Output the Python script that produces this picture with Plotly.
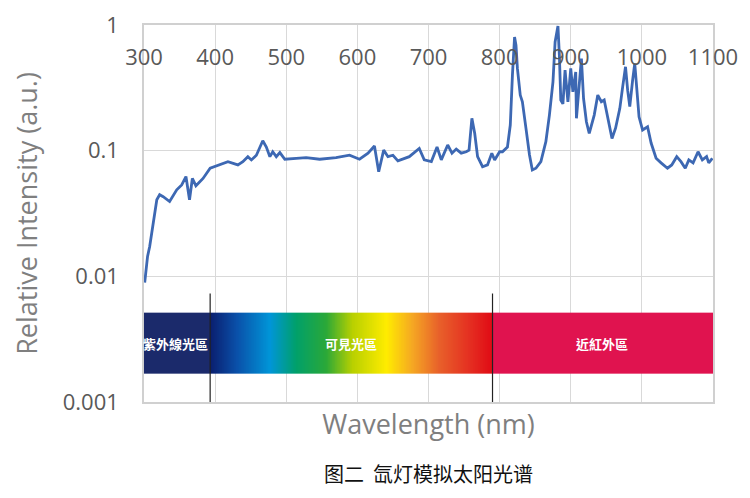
import numpy as np
import plotly.graph_objects as go

# ---------------- data ----------------
wavelength_nm = [301, 303, 305, 308, 313, 318, 322, 327, 336, 346, 353, 359, 364, 368, 373, 383,
                 393, 400, 407, 418, 432, 439, 446, 451, 458, 467, 472, 477, 481, 486, 491, 498,
                 514, 528, 547, 570, 589, 603, 615, 624, 630, 637, 643, 650, 657, 673, 687, 694,
                 704, 712, 718, 727, 733, 739, 746, 753, 757, 761, 765, 769, 776, 783, 789, 793,
                 800, 804, 811, 815, 818, 821, 823, 825, 829, 832, 837, 842, 846, 851, 858, 865,
                 870, 875, 878, 882, 884, 886, 889, 892, 896, 900, 903, 907, 908, 912, 915, 918,
                 922, 926, 933, 938, 943, 947, 952, 958, 963, 969, 973, 977, 980, 983, 987, 990,
                 993, 996, 1001, 1008, 1013, 1020, 1027, 1036, 1042, 1049, 1055, 1061, 1066, 1072,
                 1079, 1085, 1091, 1094, 1099]
intensity = [0.0089, 0.0113, 0.0144, 0.0173, 0.0267, 0.0407, 0.0446, 0.043, 0.0394, 0.0488, 0.0534,
             0.0622, 0.0407, 0.0601, 0.0525, 0.0601,
             0.0725, 0.075, 0.077, 0.0818, 0.077, 0.0818, 0.0896, 0.0844, 0.092, 0.12, 0.107, 0.0896,
             0.098, 0.0896, 0.0966, 0.0855,
             0.0868, 0.088, 0.0855, 0.088, 0.092, 0.0855, 0.0955, 0.109, 0.068, 0.101, 0.0896, 0.092,
             0.083, 0.0896, 0.104, 0.0844,
             0.0818, 0.107, 0.0844, 0.111, 0.0955, 0.103, 0.0955, 0.098, 0.101, 0.181, 0.137, 0.0896,
             0.0745, 0.077, 0.0955, 0.0844,
             0.098, 0.098, 0.107, 0.16, 0.399, 0.803, 0.69, 0.451, 0.277, 0.245, 0.151, 0.0925,
             0.0703, 0.0725, 0.0818, 0.118,
             0.192, 0.353, 0.733, 0.98, 0.575, 0.253, 0.236, 0.437, 0.245, 0.451, 0.294, 0.423,
             0.181, 0.332, 0.541, 0.26,
             0.17, 0.137, 0.192, 0.277, 0.245, 0.253, 0.186, 0.125, 0.151, 0.217, 0.322, 0.465,
             0.303, 0.224, 0.364, 0.494,
             0.303, 0.186, 0.146, 0.155, 0.115, 0.087, 0.08, 0.0725, 0.077, 0.0896, 0.0818, 0.0725,
             0.0844, 0.08,
             0.098, 0.0844, 0.0896, 0.08, 0.087]

x_ticks = [300, 400, 500, 600, 700, 800, 900, 1000, 1100]
y_ticks = [0.001, 0.01, 0.1, 1]
y_ticktext = ["0.001", "0.01", "0.1", "1"]

# spectral band regions
band_low, band_high = 0.00167, 0.00514
uv_edge_nm = 393
nir_edge_nm = 790
region_names = ["紫外線光區", "可見光區", "近紅外區"]
region_label_nm = [344, 591, 944]
divider_top = 0.0073

# gradient stops (wavelength, colour)
stop_nm = [300, 392.9, 393.1, 430, 477, 514, 556, 593, 641, 678, 715, 762, 789.9, 790.1, 1100]
stop_colors = ["#1b2a6b", "#1b2a6b", "#0a1e6e", "#0a4fa8", "#0095d8", "#00a06a", "#2aa838",
               "#b8d000", "#ffec00", "#f5a623", "#e8602a", "#e42a20", "#e00a14", "#e0134f", "#e0134f"]

# ---------------- figure ----------------
x_min, x_max = x_ticks[0], x_ticks[-1]
colorscale = [[(s - x_min) / (x_max - x_min), c] for s, c in zip(stop_nm, stop_colors)]
edges = np.arange(x_min, x_max + 1, 1.0)
mids = (edges[:-1] + edges[1:]) / 2

fig = go.Figure()

fig.add_trace(go.Heatmap(
    x=edges, y=[band_low, band_high], z=[mids],
    colorscale=colorscale, zmin=x_min, zmax=x_max, showscale=False,
    hoverinfo="skip", xaxis="x2", yaxis="y"))

fig.add_trace(go.Scatter(
    x=[uv_edge_nm, uv_edge_nm, None, nir_edge_nm, nir_edge_nm],
    y=[y_ticks[0], divider_top, None, y_ticks[0], divider_top],
    mode="lines", line=dict(color="#222222", width=1.2), hoverinfo="skip",
    xaxis="x2", yaxis="y"))

fig.add_trace(go.Scatter(
    x=wavelength_nm, y=intensity, mode="lines",
    line=dict(color="#3d68b3", width=2.8), hoverinfo="skip"))

band_mid = (band_low * band_high) ** 0.5
for name, xn in zip(region_names, region_label_nm):
    fig.add_annotation(x=xn, y=np.log10(band_mid), xref="x", yref="y", text="<b>" + name + "</b>",
                       showarrow=False, font=dict(family="Noto Sans CJK TC", size=13, color="white"))

fig.add_annotation(x=0.5, y=-0.19, xref="paper", yref="paper", xanchor="center", yanchor="middle",
                   text="图二  氙灯模拟太阳光谱", showarrow=False,
                   font=dict(family="Noto Sans CJK SC", size=20, color="#111111"))

tick_font = dict(family="Open Sans", size=22, color="#595959")
title_font = dict(family="Open Sans", size=27, color="#7f7f7f")
fig.update_layout(
    width=742, height=490,
    margin=dict(l=136, r=37, t=17, b=96, autoexpand=False),
    paper_bgcolor="white", plot_bgcolor="white",
    showlegend=False,
    xaxis=dict(range=[x_min, x_max], tickvals=x_ticks, showticklabels=False, automargin=False,
               showgrid=True, gridcolor="#d9d9d9", gridwidth=1.3, zeroline=False,
               showline=True, mirror=True, linecolor="#d0d0d0", linewidth=1.5,
               title=dict(text="Wavelength (nm)", standoff=12, font=title_font)),
    xaxis2=dict(range=[x_min, x_max], overlaying="x", anchor="free", position=1.0,
                side="bottom", tickvals=x_ticks, ticktext=[str(t) for t in x_ticks],
                ticklabelstandoff=17, showgrid=False, zeroline=False, showline=False,
                automargin=False, tickfont=tick_font),
    yaxis=dict(type="log", range=[-3, 0], tickvals=y_ticks, ticktext=y_ticktext,
               showgrid=True, gridcolor="#d9d9d9", gridwidth=1.3, zeroline=False,
               showline=True, mirror=True, linecolor="#d0d0d0", linewidth=1.5,
               ticklabelstandoff=19, tickfont=tick_font, automargin=False,
               title=dict(text="Relative Intensity (a.u.)", standoff=26, font=title_font)),
)

fig.write_html("out.html")
